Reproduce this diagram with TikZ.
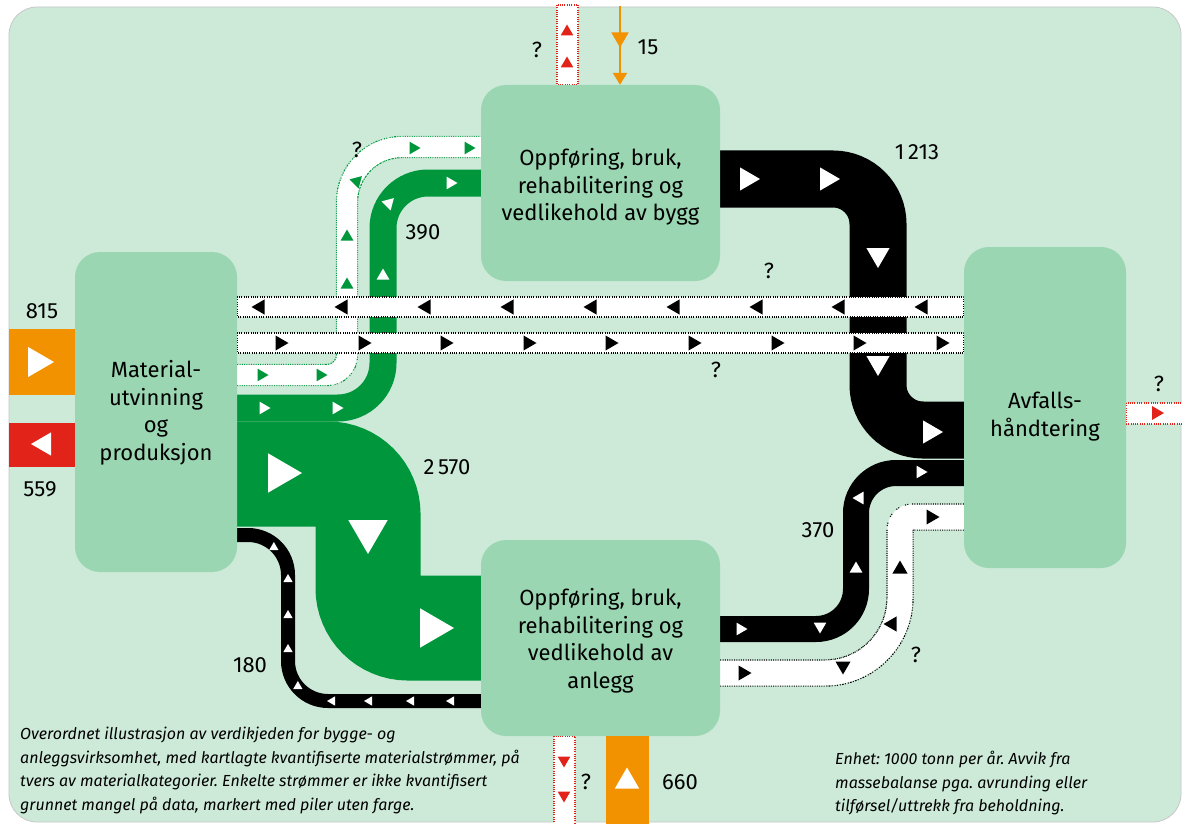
\documentclass[tikz,border=0pt]{standalone}
\usepackage{fontspec}
\setmainfont{Fira Sans}
\frenchspacing
\usetikzlibrary{arrows.meta,positioning}
\definecolor{bgmint}{HTML}{CDEAD9}
\definecolor{boxmint}{HTML}{9AD6B1}
\definecolor{flowgreen}{HTML}{00963C}
\definecolor{flowred}{HTML}{E2231A}
\definecolor{floworange}{HTML}{F39200}
\pgfdeclarelayer{flows}
\pgfsetlayers{flows,main}
\tikzset{
  stage/.style={fill=boxmint, rounded corners=25pt, inner sep=0pt},
  stagelabel/.style={align=center, inner sep=0pt, font=\fontsize{22}{27.5}\selectfont},
  num/.style={font=\fontsize{22}{26}\selectfont, inner sep=0pt},
  note/.style={anchor=north west, align=left, inner sep=0pt,
    font=\fontsize{16}{23.5}\selectfont\itshape},
  qband/.style 2 args={draw=white, line width=#1,
    preaction={draw=#2, line width=#1+2.4pt, dash pattern=on 1pt off 1.3pt}},
  qbox/.style={draw=#1, fill=white, line width=1.2pt, dash pattern=on 1pt off 1.3pt},
  tri/.pic={\fill (0.5,0) -- (-0.5,0.58) -- (-0.5,-0.58) -- cycle;}
}

\begin{document}
\begin{tikzpicture}[x=1pt, y=-1pt]
  \useasboundingbox (0,0) rectangle (1183,824);
  % Stages
  \node[stage, minimum width=162pt, minimum height=320pt] (mat) at (156,412) {};
  \node[stage, minimum width=239pt, minimum height=196pt] (bygg) at (600.5,183) {};
  \node[stage, minimum width=239pt, minimum height=196pt] (anlegg) at (600.5,638) {};
  \node[stage, minimum width=162pt, minimum height=321pt] (avfall) at (1045,407.5) {};
  \node[stagelabel] (mattext) at ([yshift=-1pt]mat.center) {Material-\\utvinning\\og\\produksjon};
  \node[stagelabel] (byggtext) at ([yshift=-4pt]bygg.center) {Oppføring, bruk,\\rehabilitering og\\vedlikehold av bygg};
  \node[stagelabel] (anleggtext) at ([yshift=-3pt]anlegg.center) {Oppføring, bruk,\\rehabilitering og\\vedlikehold av\\anlegg};
  \node[stagelabel] (avfalltext) at ([yshift=-9pt]avfall.center) {Avfalls-\\håndtering};

  \begin{pgfonlayer}{flows}
  % Background panel
  \fill[bgmint, draw=black!22, line width=0.8pt, rounded corners=28pt] (9,7) rectangle (1181,822);
  % Green 2 570
  \draw[flowgreen, line width=105pt, rounded corners=40pt] (mat.east |- 0,474) -- (368,474) -- (368,628) -- (anlegg.west |- 0,628);
  % Green 390
  \draw[flowgreen, line width=27pt, rounded corners=45pt] (mat.east |- 0,408) -- (383,408) -- (383,183) -- (bygg.west |- 0,183);
  % Green, not quantified
  \draw[qband={20pt}{flowgreen}] (mat.east |- 0,375) [rounded corners=20pt] -- (347,375) [rounded corners=55pt] -- (347,147) -- (bygg.west |- 0,147);
  % Black 1 213
  \draw[black, line width=57pt, rounded corners=45pt] (bygg.east |- 0,179) -- (878,179) -- (878,430) -- (avfall.west |- 0,430);
  % Black 370
  \draw[black, line width=26pt, rounded corners=40pt] (anlegg.east |- 0,629) -- (856,629) -- (856,473) -- (avfall.west |- 0,473);
  % Black, not quantified
  \draw[qband={25pt}{black}] (anlegg.east |- 0,673) [rounded corners=75pt] -- (900,673) [rounded corners=12pt] -- (900,517) -- (avfall.west |- 0,517);
  % Black 180
  \draw[black, line width=14pt, rounded corners=40pt] (anlegg.west |- 0,701) -- (288,701) -- (288,535) -- (mat.east |- 0,535);
  % Long bands between Material and Avfall
  \draw[qbox=black] (mat.east |- 0,297) rectangle (avfall.west |- 0,317);
  \draw[qbox=black] (mat.east |- 0,333) rectangle (avfall.west |- 0,353);
  \end{pgfonlayer}

  % Flows in and out of the system
  \coordinate (in815) at (9,362);
  \draw[floworange, line width=66pt] (in815) -- (in815 -| mat.west);
  \coordinate (out559) at (9,445);
  \draw[flowred, line width=44pt] (out559 -| mat.west) -- (out559);
  \coordinate (in660) at (627,826);
  \draw[floworange, line width=43pt] (in660) -- (in660 |- anlegg.south);
  \coordinate (in15) at (620,6);
  \draw[floworange, line width=2pt, -{Triangle[length=12pt,width=14pt]}] (in15) -- (in15 |- bygg.north);
  \draw[qbox=flowred] (557,5) rectangle (bygg.north -| 578,0);
  \draw[qbox=flowred] (anlegg.south -| 554,0) rectangle (575,828);
  \draw[qbox=flowred] (avfall.east |- 0,403) rectangle (1188,424);

  % Direction marks
  \pic[white, scale=26] at (41,362) {tri};
  \pic[white, scale=20, rotate=180] at (41,444) {tri};
  \pic[white, scale=21, rotate=90] at (627,778) {tri};
  \pic[floworange, scale=15, rotate=-90] at (620,40) {tri};
  \foreach \y in {30,62} \pic[flowred, scale=11, rotate=90] at (567,\y) {tri};
  \foreach \y in {762,797} \pic[flowred, scale=11, rotate=-90] at (564,\y) {tri};
  \pic[flowred, scale=12] at (1158,413) {tri};
  \pic[white, scale=34] at (285,473) {tri};
  \pic[white, scale=34, rotate=-90] at (368,537) {tri};
  \pic[white, scale=34] at (437,628) {tri};
  \foreach \x/\y/\r in {265/408/0, 338/408/0, 383/274/90, 390/202/45, 452/183/0}
    \pic[white, scale=11, rotate=\r] at (\x,\y) {tri};
  \foreach \x/\y/\r in {263/375/0, 322/375/0, 347/283/90, 347/235/90, 358/180/45, 415/148/0, 470/148/0}
    \pic[flowgreen, scale=11, rotate=\r] at (\x,\y) {tri};
  \foreach \x in {258,341,424,507,590,673,756,838,921}
    \pic[scale=13, rotate=180] at (\x,307) {tri};
  \foreach \x in {282,365,447,530,612,695,778,860,943}
    \pic[scale=13] at (\x,343) {tri};
  \foreach \x/\y/\r in {750/179/0, 830/179/0, 878/258/-90, 878/366/-90, 933/432/0}
    \pic[white, scale=20, rotate=\r] at (\x,\y) {tri};
  \foreach \x/\y/\r in {742/629/0, 820/628/-90, 856/567/90, 858/498/180, 922/472/0}
    \pic[white, scale=11, rotate=\r] at (\x,\y) {tri};
  \foreach \x/\y/\r in {745/673/0, 843/668/-90, 890/624/180, 900/567/90, 933/517/0}
    \pic[scale=13, rotate=\r] at (\x,\y) {tri};
  \foreach \x/\y/\r in {275/548/-30, 288/578/90, 288/614/90, 288/648/90, 299/687/-30, 331/701/180, 368/701/180, 410/701/180, 450/701/180}
    \pic[white, scale=8, rotate=\r] at (\x,\y) {tri};

  % Quantities
  \node[num] (lab815) at (42,311) {815};
  \node[num] (lab559) at (40,489) {559};
  \node[num] (lab15) at (648,47) {15};
  \node[num] (lab390) at (423,232) {390};
  \node[num] (lab1213) at (917,152) {1\,213};
  \node[num] (lab2570) at (447,467) {2\,570};
  \node[num] (lab370) at (818,530) {370};
  \node[num] (lab180) at (250,665) {180};
  \node[num] (lab660) at (680,782) {660};
  \node[num] (q1) at (357,150) {?};
  \node[num] (q2) at (537,50) {?};
  \node[num] (q3) at (769,271) {?};
  \node[num] (q4) at (716,370) {?};
  \node[num] (q5) at (1159,384) {?};
  \node[num] (q6) at (916,655) {?};
  \node[num] (q7) at (586,782) {?};

  % Notes
  \node[note] (caption) at (20,727) {Overordnet illustrasjon av verdikjeden for bygge- og\\anleggsvirksomhet, med kartlagte kvantifiserte materialstrømmer, på\\tvers av materialkategorier. Enkelte strømmer er ikke kvantifisert\\grunnet mangel på data, markert med piler uten farge.};
  \node[note] (unit) at (835,751) {Enhet: 1000 tonn per år. Avvik fra\\massebalanse pga. avrunding eller\\tilførsel/uttrekk fra beholdning.};
\end{tikzpicture}
\end{document}
